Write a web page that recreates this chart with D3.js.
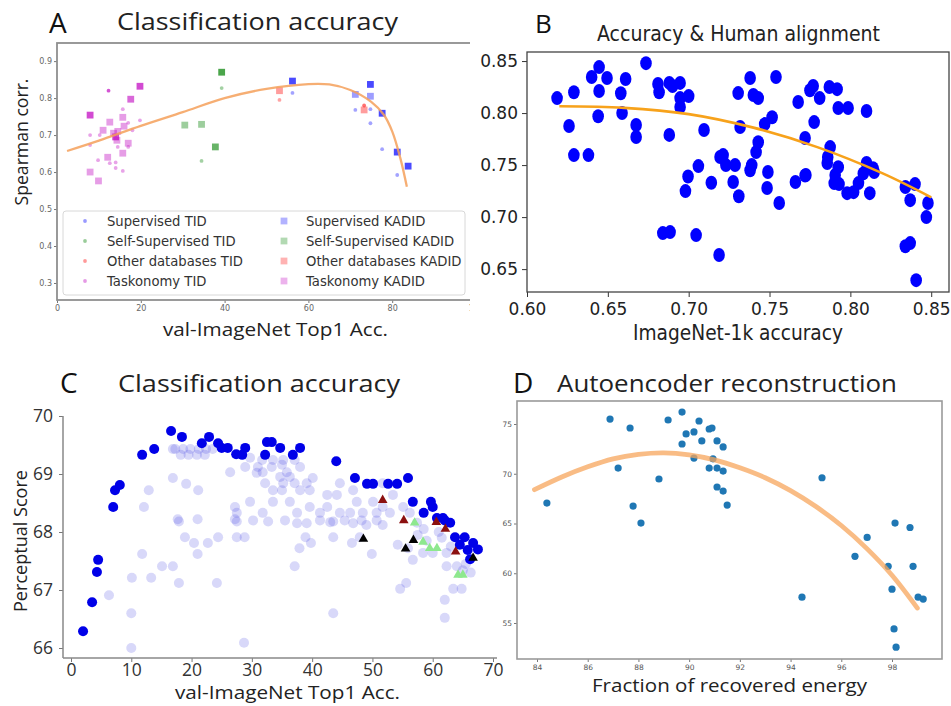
<!DOCTYPE html>
<html><head><meta charset="utf-8">
<script src="https://cdn.jsdelivr.net/npm/d3@7"></script>
<style>body{margin:0;background:#fff}svg{display:block}</style>
</head><body>
<svg id="fig" width="951" height="706"></svg>
<script>
// ---------- Panel A: Spearman corr. vs val-ImageNet top-1 accuracy ----------
// entries: [top-1 acc (%), Spearman corr., models stacked at that point]
const supervisedTID   = [[56.2,0.814,1],[71.2,0.768,1],[74.8,0.770,1],[74.8,0.732,1],[77.6,0.662,1],[81.2,0.592,1]];
const supervisedKADID = [[56.2,0.846,3],[74.8,0.837,3],[74.8,0.805,1],[71.2,0.81,1],[77.6,0.759,3],[81.2,0.654,3],[83.8,0.616,3]];
const selfSupTID      = [[39.3,0.827,1],[34.5,0.63,1]];
const selfSupKADID    = [[39.3,0.87,3],[30.5,0.727,1],[34.5,0.729,1],[37.8,0.668,2]];
const otherDbTID      = [[53.1,0.795,1],[73.3,0.78,2]];
const otherDbKADID    = [[53.1,0.82,1],[73.3,0.768,1]];
const taskonomyTID    = [[12.3,0.82,3],[7.9,0.7,1],[7.9,0.673,1],[15.7,0.77,1],[19.8,0.74,1],[9.8,0.632,1],[12.6,0.624,1],[14,0.626,1],[14,0.611,1],[15.7,0.603,1],[18,0.713,1],[17,0.733,1],[14.5,0.668,1],[17,0.668,1],[10.2,0.7,1]];
const taskonomyKADID  = [[7.9,0.754,3],[19.8,0.832,3],[17.6,0.797,2],[14,0.695,3],[12.6,0.735,1],[15.7,0.748,1],[16,0.724,1],[11,0.713,1],[14.5,0.71,1],[17,0.678,1],[15.7,0.651,1],[12.1,0.64,1],[7.9,0.6,1],[9.9,0.576,1],[14.3,0.686,1],[13.5,0.705,1]];
const fitA_x = [2.4,10,20,30,40,50,60,65,70,75,78,80,82,83.5];
const fitA_y = [0.657,0.685,0.725,0.762,0.80,0.825,0.838,0.837,0.822,0.79,0.755,0.71,0.635,0.56];
const aXTicks = [0,20,40,60,80,100];
const aYTicks = [0.3,0.4,0.5,0.6,0.7,0.8,0.9];
const legendA = ["Supervised TID","Self-Supervised TID","Other databases TID","Taskonomy TID",
                 "Supervised KADID","Self-Supervised KADID","Other databases KADID","Taskonomy KADID"];

// ---------- Panel B: human alignment vs ImageNet-1k accuracy ----------
const alignB = [[0.6186,0.8144],[0.626,0.7875],[0.629,0.820],[0.629,0.7596],[0.638,0.7596],[0.640,0.8346],[0.6446,0.8442],[0.6495,0.8337],[0.6446,0.8212],[0.644,0.797],[0.658,0.819],[0.6588,0.800],[0.661,0.8327],[0.6675,0.7885],[0.6675,0.777],[0.6736,0.848],[0.681,0.828],[0.6817,0.820],[0.688,0.829],[0.690,0.826],[0.6947,0.829],[0.6947,0.8144],[0.6947,0.8058],[0.700,0.8163],[0.688,0.779],[0.7095,0.7837],[0.706,0.749],[0.6996,0.739],[0.7194,0.7577],
  [0.738,0.8337],[0.754,0.8346],[0.7306,0.8192],[0.740,0.8173],[0.743,0.8144],[0.7516,0.796],[0.747,0.7894],[0.7318,0.7866],[0.743,0.772],[0.7417,0.7625],[0.7213,0.7596],[0.723,0.75],[0.7287,0.75],[0.739,0.75],[0.749,0.7433],[0.7677,0.8106],[0.775,0.822],[0.777,0.826],[0.781,0.8144],[0.787,0.825],[0.7918,0.823],[0.7925,0.8048],[0.7986,0.8048],[0.810,0.802],[0.7776,0.7913],[0.772,0.776],[0.7875,0.7673],[0.786,0.7577],[0.7857,0.752],[0.7925,0.748],[0.810,0.752],[0.814,0.747],[0.772,0.740],[0.808,0.742],
  [0.698,0.725],[0.7275,0.7337],[0.714,0.733],[0.731,0.720],[0.738,0.745],[0.7485,0.728],[0.756,0.7135],[0.766,0.7337],[0.7725,0.7404],[0.7906,0.7404],[0.790,0.7327],[0.793,0.7317],[0.798,0.723],[0.802,0.724],[0.805,0.7327],[0.812,0.723],[0.8147,0.7433],[0.834,0.729],[0.840,0.7317],[0.837,0.7163],[0.848,0.7135],[0.847,0.70],[0.834,0.672],[0.837,0.675],[0.8407,0.6394],[0.684,0.6846],[0.6885,0.6856],[0.7046,0.6827],[0.7188,0.6635]];
const fitB_x = [0.62,0.66,0.70,0.74,0.78,0.82,0.85];
const fitB_y = [0.8065,0.805,0.799,0.786,0.767,0.742,0.719];
const bXTicks = [0.60,0.65,0.70,0.75,0.80,0.85];
const bYTicks = [0.65,0.70,0.75,0.80,0.85];

// ---------- Panel C: perceptual score vs val-ImageNet top-1 accuracy ----------
const frontierC = [[2.0,66.29],[3.5,66.79],[4.3,67.31],[4.5,67.52],[7.0,68.43],[7.3,68.72],[8.1,68.81],[11.8,69.33],[13.8,69.43],[16.6,69.74],[18.4,69.64],[21.7,69.53],[22.9,69.64],[24.4,69.53],[25,69.45],[26,69.45],[27.4,69.34],[28.4,69.33],[28.9,69.45],[32.2,69.33],[32.5,69.55],[33.3,69.55],[34.7,69.45],[36.8,69.33],[38,69.45],[44,69.22],[47.1,68.93],[49.1,68.83],[50.1,68.83],[52.6,68.83],[54.1,68.83],[55.9,68.93],[56.7,68.52],[59.7,68.52],[60,68.43],[58.5,68.33],[60.7,68.24],[61.7,68.24],[62.9,68.16],[62,68.2],[63.7,67.91],[65.3,67.91],[64.5,67.78],[66.7,67.81],[65.8,67.69],[66.2,67.53],[67.5,67.7]];
const othersC = [[16.9,69.43],[17.3,69.43],[18.6,69.43],[19.8,69.43],[21.2,69.43],[22.4,69.43],[23.5,69.43],[18.2,69.33],[19.5,69.33],[20.9,69.33],[22.2,69.33],
  [26.4,69.03],[16.9,68.93],[19.1,68.83],[21.1,68.72],[12.9,68.72],[12.1,68.43],[27.2,68.43],[17.7,68.22],[21,68.22],[27.2,68.22],
  [18.9,67.91],[20.4,67.81],[22.7,67.81],[24.4,67.91],[27.5,67.91],[28.8,67.91],[21,67.62],[11.8,67.62],[15.1,67.41],[16.9,67.41],[10.1,67.21],[13.3,67.21],[17.9,67.12],[24.2,67.12],[6.3,66.91],[10,66.6],[10,66.0],[28.7,66.09],
  [37.1,67.41],[37.9,67.72],[38.9,67.91],[39.8,67.81],[43.5,67.91],[43.5,66.6],[46.6,67.81],[47.9,67.91],[49.9,67.62],[54.6,67.02],[55.6,67.12],[56.7,67.52],[62,66.83],[62,66.52],[63.4,67.02],[64.8,67.02],[62.3,67.41],[64,67.41],[65,67.34],[62.3,67.64],[60,67.64],[58.4,67.64],[55.9,67.72],[54.2,67.78],
  [17.9,68.18],[27.5,68.18],[30.2,68.2],[32.7,68.18],[35.5,68.2],[37.5,68.15],[39.1,68.15],[41.3,68.2],[43.5,68.18],[45.4,68.2],[46.8,68.15],[48.2,68.2],[49,68.12],[50.7,68.2],[51.7,68.12],
  [29.7,69.28],[31.7,69.24],[33.5,69.24],[35.2,69.24],[37.1,69.24],[28.9,69.12],[31,69.12],[33.3,69.12],[35,69.16],[38,69.12],[30.8,69.02],[31.8,69.03],[35.8,69.03],[34.7,68.95],[36.3,68.95],[40.1,68.93],[32.2,68.84],[35.2,68.84],[37.1,68.84],[39.1,68.84],[33.5,68.72],[35,68.72],[38,68.72],[39.6,68.72],[44.6,68.84],[46.8,68.72],[51.7,68.84],[53.4,68.64],[42.5,68.64],[44.1,68.64],[29.7,68.52],[33.5,68.52],[36.3,68.52],[39.6,68.43],[42.5,68.43],[47.4,68.52],[50.1,68.52],[51.7,68.43],[55.1,68.43],[27.5,68.33],[31.8,68.33],[37.5,68.33],[41.3,68.33],[44.6,68.33],[46.3,68.33],[48.4,68.33],[50.7,68.33],[52.9,68.33],[56.2,68.33],[43,68.17],[57.4,68.16],
  [57.5,67.95],[59,67.85],[61.5,67.9],[63,67.75],[65.5,67.45],[66.3,67.3],[58.5,68.05],[61,68.0]];
const redTriC   = [[51.7,68.55],[55.2,68.2],[60.6,68.17],[62.1,68.05],[63.8,67.66]];
const blackTriC = [[48.5,67.88],[55.5,67.71],[56.8,67.86],[66.7,67.55]];
const greenTriC = [[57,68.16],[58.4,67.83],[59.5,67.72],[60.7,67.72],[64.2,67.26],[65,67.26]];
const cXTicks = [0,10,20,30,40,50,60,70];
const cYTicks = [66,67,68,69,70];

// ---------- Panel D: perceptual score vs fraction of recovered energy ----------
const energyD = [[86.88,75.5],[87.67,74.6],[87.2,70.57],[84.39,67.05],[87.79,66.75],[88.1,65.04],[88.81,69.47],[89.17,75.4],[89.72,76.2],[89.72,72.99],[89.88,74],[90.19,74.2],[90.19,71.58],[90.39,75.3],[90.5,73.3],[90.79,74.5],[90.9,74.6],[91.1,73.3],[90.79,70.57],[90.94,71.5],[91.1,70.57],[91.1,68.67],[91.34,72.7],[91.34,70.27],[91.34,68.26],[91.5,66.85],[95.24,69.6],[98.12,65.04],[98.71,64.6],[97.02,63.6],[96.54,61.7],[97.85,60.7],[98.83,60.7],[98.0,58.4],[94.45,57.6],[99.03,57.6],[99.23,57.4],[98.08,54.4],[98.16,52.57]];
const fitD_x = [83.9,85,86,87,88,89,90,91,92,93,94,95,96,97,98,99];
const fitD_y = [68.4,69.7,70.7,71.5,71.95,72.1,71.9,71.4,70.6,69.6,68.3,66.7,64.8,62.5,59.8,56.5];
const dXTicks = [84,86,88,90,92,94,96,98];
const dYTicks = [55,60,65,70,75];

// ======================= drawing =======================
const svg = d3.select("#fig");
const TITLE_FONT = "'Open Sans', 'Noto Sans', sans-serif";
const DJV = "'DejaVu Sans', sans-serif";

function text(g, x, y, str, o = {}) {
  const t = g.append("text").attr("x", x).attr("y", y).text(str)
    .attr("font-family", o.family || TITLE_FONT)
    .attr("font-size", o.size || 16)
    .attr("fill", o.fill || "#222")
    .attr("text-anchor", o.anchor || "start");
  if (o.weight) t.attr("font-weight", o.weight);
  if (o.len) t.attr("textLength", o.len).attr("lengthAdjust", "spacingAndGlyphs");
  if (o.rotate) t.attr("transform", `rotate(${o.rotate},${x},${y})`);
  return t;
}
const zip = (xs, ys) => xs.map((x, i) => [x, ys[i]]);

// ---------------- Panel A ----------------
{
  const x = d3.scaleLinear([0, 100], [57, 476]);
  const y = d3.scaleLinear([0.254, 0.949], [300, 43]);
  svg.append("clipPath").attr("id", "clipA").append("rect").attr("x", 0).attr("y", 0).attr("width", 470).attr("height", 345);
  const g = svg.append("g").attr("clip-path", "url(#clipA)");

  const ya = g.append("g").attr("transform", "translate(57,0)")
    .call(d3.axisLeft(y).tickValues(aYTicks).tickFormat(d3.format(".1f")).tickSize(3).tickPadding(2));
  const xa = g.append("g").attr("transform", "translate(0,300)")
    .call(d3.axisBottom(x).tickValues(aXTicks).tickSize(3).tickPadding(2));
  [ya, xa].forEach(a => {
    a.select(".domain").remove();
    a.selectAll("line").attr("stroke", "#777");
    a.selectAll("text").attr("font-family", DJV).attr("font-size", 8).attr("fill", "#666");
  });
  g.append("rect").attr("x", 57).attr("y", 43).attr("width", 419).attr("height", 257)
    .attr("fill", "none").attr("stroke", "#8f8f8f").attr("stroke-width", 1.8);

  const alpha = n => 1 - Math.pow(0.55, n);
  const squares = (data, color) => g.append("g").selectAll("rect").data(data).join("rect")
    .attr("x", d => x(d[0]) - 3.4).attr("y", d => y(d[1]) - 3.4).attr("width", 6.8).attr("height", 6.8)
    .attr("fill", color).attr("fill-opacity", d => alpha(d[2]) * 0.85);
  const dots = (data, color) => g.append("g").selectAll("circle").data(data).join("circle")
    .attr("cx", d => x(d[0])).attr("cy", d => y(d[1])).attr("r", 1.9)
    .attr("fill", color).attr("fill-opacity", d => alpha(d[2]) * 0.8);

  const cB = "#0000ff", cG = "#008000", cR = "#ff0000", cM = "#bf00bf";
  squares(taskonomyKADID, cM); dots(taskonomyTID, cM);
  squares(selfSupKADID, cG); dots(selfSupTID, cG);
  squares(otherDbKADID, cR); dots(otherDbTID, cR);
  squares(supervisedKADID, cB); dots(supervisedTID, cB);

  g.append("path").datum(zip(fitA_x, fitA_y))
    .attr("d", d3.line().x(d => x(d[0])).y(d => y(d[1])).curve(d3.curveCatmullRom))
    .attr("fill", "none").attr("stroke", "#f5a05a").attr("stroke-opacity", 0.85).attr("stroke-width", 2.3);

  // legend
  const lg = g.append("g");
  lg.append("rect").attr("x", 63).attr("y", 211).attr("width", 402).attr("height", 84).attr("rx", 3)
    .attr("fill", "#fff").attr("fill-opacity", 0.85).attr("stroke", "#d8d8d8");
  const legColors = [cB, cG, cR, cM];
  legendA.forEach((lab, i) => {
    const col = Math.floor(i / 4), row = i % 4;
    const mx = col ? 284 : 85, ty = 221 + row * 20;
    if (col) lg.append("rect").attr("x", mx - 3.4).attr("y", ty - 3.4).attr("width", 6.8).attr("height", 6.8)
      .attr("fill", legColors[row]).attr("fill-opacity", 0.3);
    else lg.append("circle").attr("cx", mx).attr("cy", ty).attr("r", 1.9).attr("fill", legColors[row]).attr("fill-opacity", 0.4);
    text(lg, mx + 22, ty + 5, lab, { family: DJV, size: 13.2, fill: "#333" });
  });

  text(svg, 49, 33, "A", { size: 28, fill: "#111" });
  text(svg, 117, 30, "Classification accuracy", { size: 24, len: 281 });
  text(svg, 163, 336, "val-ImageNet Top1 Acc.", { size: 18, len: 225 });
  text(svg, 28, 142, "Spearman corr.", { size: 18, anchor: "middle", rotate: -90, len: 127 });
}

// ---------------- Panel B ----------------
{
  const x = d3.scaleLinear([0.60, 0.861], [527, 949]);
  const y = d3.scaleLinear([0.628, 0.8587], [292, 52]);
  const g = svg.append("g");
  const ya = g.append("g").attr("transform", "translate(527,0)")
    .call(d3.axisLeft(y).tickValues(bYTicks).tickFormat(d3.format(".2f")).tickSize(5).tickPadding(4));
  const xa = g.append("g").attr("transform", "translate(0,292)")
    .call(d3.axisBottom(x).tickValues(bXTicks).tickFormat(d3.format(".2f")).tickSize(5).tickPadding(6));
  [ya, xa].forEach(a => {
    a.select(".domain").remove();
    a.selectAll("line").attr("stroke", "#333");
    a.selectAll("text").attr("font-family", DJV).attr("font-size", 17).attr("fill", "#222");
  });
  g.append("rect").attr("x", 527).attr("y", 52).attr("width", 422).attr("height", 240)
    .attr("fill", "none").attr("stroke", "#444").attr("stroke-width", 1.3);

  g.append("g").selectAll("ellipse").data(alignB).join("ellipse")
    .attr("cx", d => x(d[0])).attr("cy", d => y(d[1])).attr("rx", 5.8).attr("ry", 7)
    .attr("fill", "#0000ff");
  g.append("path").datum(zip(fitB_x, fitB_y))
    .attr("d", d3.line().x(d => x(d[0])).y(d => y(d[1])).curve(d3.curveCatmullRom))
    .attr("fill", "none").attr("stroke", "#f7a21b").attr("stroke-width", 2.6);

  text(svg, 535, 33, "B", { size: 26, fill: "#111" });
  text(svg, 597, 41, "Accuracy & Human alignment", { family: DJV, size: 22, len: 283 });
  text(svg, 633, 340, "ImageNet-1k accuracy", { family: DJV, size: 21, len: 210 });
}

// ---------------- Panel C ----------------
{
  const x = d3.scaleLinear([0, 70], [71, 493]);
  const y = d3.scaleLinear([66, 70], [648, 416]);
  const g = svg.append("g");
  const ya = g.append("g").attr("transform", "translate(63,0)")
    .call(d3.axisLeft(y).tickValues(cYTicks).tickFormat(d3.format("d")).tickSize(4).tickPadding(6));
  const xa = g.append("g").attr("transform", "translate(0,658)")
    .call(d3.axisBottom(x).tickValues(cXTicks).tickFormat(d3.format("d")).tickSize(4).tickPadding(2));
  [ya, xa].forEach(a => {
    a.select(".domain").remove();
    a.selectAll("line").attr("stroke", "#777");
    a.selectAll("text").attr("font-family", TITLE_FONT).attr("font-size", 17.5).attr("fill", "#333");
  });
  g.append("line").attr("x1", 63).attr("x2", 63).attr("y1", 416).attr("y2", 658).attr("stroke", "#888").attr("stroke-width", 1.5);
  g.append("line").attr("x1", 63).attr("x2", 497).attr("y1", 658).attr("y2", 658).attr("stroke", "#888").attr("stroke-width", 1.5);

  g.append("g").selectAll("circle").data(othersC).join("circle")
    .attr("cx", d => x(d[0])).attr("cy", d => y(d[1])).attr("r", 5)
    .attr("fill", "#3c3ce0").attr("fill-opacity", 0.2);
  g.append("g").selectAll("circle").data(frontierC).join("circle")
    .attr("cx", d => x(d[0])).attr("cy", d => y(d[1])).attr("r", 5)
    .attr("fill", "#0000e8");
  const tri = d3.symbol(d3.symbolTriangle, 40);
  const triangles = (data, color) => g.append("g").selectAll("path").data(data).join("path")
    .attr("d", tri).attr("transform", d => `translate(${x(d[0])},${y(d[1])})`).attr("fill", color);
  triangles(greenTriC, "#8ee88e");
  triangles(redTriC, "#8b1010");
  triangles(blackTriC, "#000");

  text(svg, 60, 393, "C", { size: 28, fill: "#111" });
  text(svg, 118, 392, "Classification accuracy", { size: 24, len: 282 });
  text(svg, 175, 699, "val-ImageNet Top1 Acc.", { size: 18.5, len: 225 });
  text(svg, 27, 541, "Perceptual Score", { size: 19, anchor: "middle", rotate: -90, len: 142 });
}

// ---------------- Panel D ----------------
{
  const x = d3.scaleLinear([84, 98], [537, 892]);
  const y = d3.scaleLinear([55, 75], [623, 424]);
  const g = svg.append("g");
  const ya = g.append("g").attr("transform", "translate(517,0)")
    .call(d3.axisLeft(y).tickValues(dYTicks).tickSize(3).tickPadding(2));
  const xa = g.append("g").attr("transform", "translate(0,659)")
    .call(d3.axisBottom(x).tickValues(dXTicks).tickSize(3).tickPadding(3));
  [ya, xa].forEach(a => {
    a.select(".domain").remove();
    a.selectAll("line").attr("stroke", "#777");
    a.selectAll("text").attr("font-family", DJV).attr("font-size", 7.5).attr("fill", "#555");
  });
  g.append("rect").attr("x", 517).attr("y", 401).attr("width", 425).attr("height", 258)
    .attr("fill", "none").attr("stroke", "#9a9a9a").attr("stroke-width", 1.6);

  g.append("g").selectAll("circle").data(energyD).join("circle")
    .attr("cx", d => x(d[0])).attr("cy", d => y(d[1])).attr("r", 3.6)
    .attr("fill", "#1f77b4");
  g.append("path").datum(zip(fitD_x, fitD_y))
    .attr("d", d3.line().x(d => x(d[0])).y(d => y(d[1])).curve(d3.curveCatmullRom))
    .attr("fill", "none").attr("stroke", "#f7a55c").attr("stroke-opacity", 0.75).attr("stroke-width", 4.8)
    .attr("stroke-linecap", "round");

  text(svg, 513, 393, "D", { size: 28, fill: "#111" });
  text(svg, 557, 392, "Autoencoder reconstruction", { size: 24, len: 340 });
  text(svg, 592, 692, "Fraction of recovered energy", { size: 18, len: 275 });
}
</script>
</body></html>
